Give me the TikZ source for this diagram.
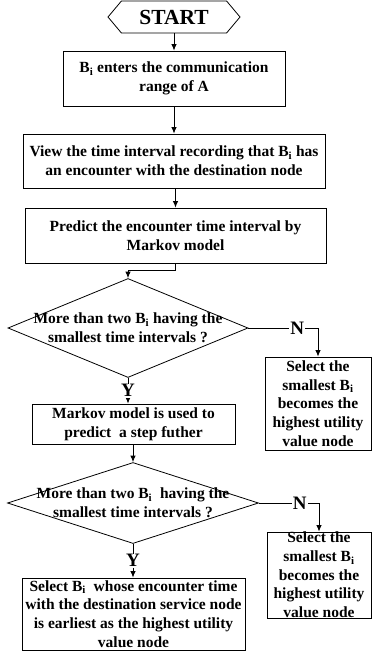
\documentclass[tikz,border=0pt]{standalone}
\usepackage{fontspec}
\setmainfont{Liberation Serif}
\usetikzlibrary{arrows.meta,shapes.geometric,shapes.symbols}
\begin{document}
\begin{tikzpicture}[x=1pt,y=-1pt,
  every node/.style={font=\bfseries\fontsize{15.5}{18.7}\selectfont},
  procbox/.style={draw, line width=0.9pt, inner sep=0pt, align=center},
  decision/.style={draw, diamond, line width=0.8pt, inner sep=0pt},
  dtext/.style={align=center, inner sep=0pt},
  conn/.style={draw, line width=0.8pt, -{Latex[length=6.5pt,width=5.5pt]}},
  lab/.style={fill=white, inner sep=1pt, font=\bfseries\fontsize{19}{19}\selectfont}
]
\useasboundingbox (0,0) rectangle (372,653);

\node[draw, signal, signal to=west and east, signal pointer angle=100,
      line width=0.8pt, minimum width=132pt, minimum height=32pt, inner sep=0pt,
      font=\bfseries\fontsize{21.5}{21.5}\selectfont] (start) at (174,17) {START};

\node[procbox, minimum width=222pt, minimum height=55pt] (b1) at (174,78.5)
  {B\textsubscript{i} enters the communication\\range of A};
\node[procbox, minimum width=302pt, minimum height=54pt] (b2) at (174,161)
  {View the time interval recording that B\textsubscript{i} has\\an encounter with the destination node};
\node[procbox, minimum width=301pt, minimum height=55pt] (b3) at (175.5,235.5)
  {Predict the encounter time interval by\\Markov model};

\node[decision, minimum width=240pt, minimum height=99pt] (d1) at (128,328) {};
\node[dtext] (t1) at (128,328) {More than two B\textsubscript{i} having the\\smallest time intervals ?};

\node[procbox, minimum width=106pt, minimum height=93pt] (s1) at (318,403.5)
  {Select the\\smallest B\textsubscript{i}\\becomes the\\highest utility\\value node};

\node[procbox, minimum width=203pt, minimum height=40pt] (b4) at (133.5,424)
  {Markov model is used to\\predict\ \ a step futher};

\node[decision, minimum width=251pt, minimum height=81pt] (d2) at (133,503) {};
\node[dtext] (t2) at (133,503) {More than two B\textsubscript{i}\ \ having the\\smallest time intervals ?};

\node[procbox, minimum width=104pt, minimum height=86pt] (s2) at (319,575)
  {Select the\\smallest B\textsubscript{i}\\becomes the\\highest utility\\value node};

\node[procbox, minimum width=223pt, minimum height=72pt] (b5) at (133.5,614)
  {Select B\textsubscript{i}\ \ whose encounter time\\with the destination service node\\is earliest as the highest utility\\value node};

\draw[conn] (start.south) -- (b1.north);
\draw[conn] (b1.south) -- (b2.north);
\draw[conn] (b3.north |- b2.south) -- (b3.north);
\draw[conn] (b3.south) -- ++(0,7) -| (d1.north);
\draw[conn] (d1.south) -- node[lab]{Y} (d1.south |- b4.north);
\draw[conn] (d2.north |- b4.south) -- (d2.north);
\draw[conn] (d2.south) -- node[lab]{Y} (d2.south |- b5.north);
\draw[conn] (d1.east) -- node[lab, pos=0.7]{N} (s1.north |- d1.east) -- (s1.north);
\draw[conn] (d2.east) -- node[lab, pos=0.68]{N} (s2.north |- d2.east) -- (s2.north);
\end{tikzpicture}
\end{document}
